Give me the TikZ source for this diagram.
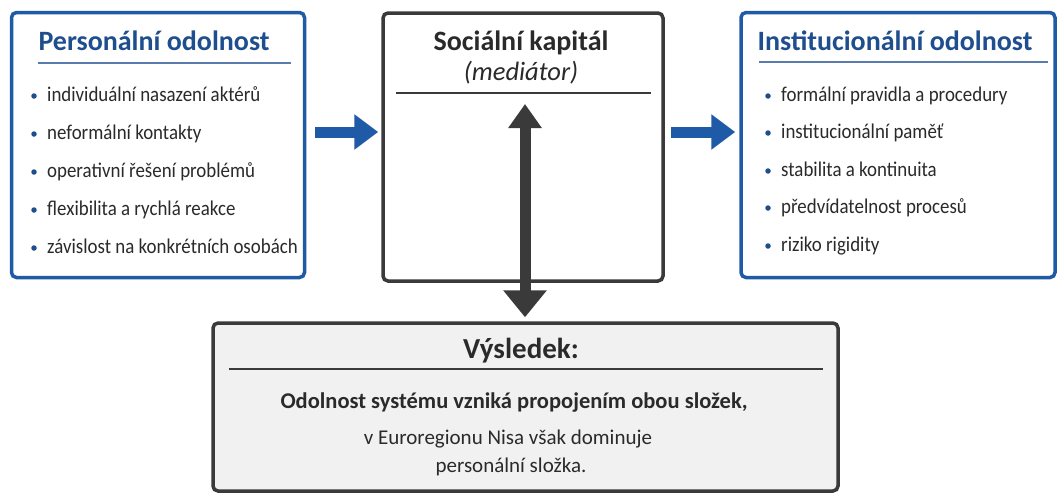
\documentclass[tikz,border=0pt]{standalone}
\usepackage{fontspec}
\setmainfont{Carlito}
\newfontfamily\itemfont{Carlito}[FakeStretch=0.9]
\usetikzlibrary{arrows.meta}
\definecolor{bblue}{HTML}{1F5AA6}
\definecolor{tblue}{HTML}{1E4E8E}
\definecolor{rblue}{HTML}{5A7BAE}
\definecolor{dgray}{HTML}{3A3A3A}
\definecolor{txt}{HTML}{2A2A2A}
\definecolor{lgray}{HTML}{F1F1F1}
\begin{document}
\begin{tikzpicture}[x=1pt,y=-1pt,
  bluebox/.style={draw=bblue, line width=3.5pt, rounded corners=5pt, fill=white, inner sep=0},
  graybox/.style={draw=dgray, line width=3.5pt, rounded corners=5pt, inner sep=0},
  ttl/.style={font=\fontsize{28}{30}\selectfont\bfseries, text=tblue, inner sep=0, anchor=base},
  mttl/.style={text=txt, inner sep=0, anchor=base},
  itm/.style={font=\itemfont\fontsize{21}{24}\selectfont, text=txt, inner sep=0, anchor=base west},
  btxt/.style={font=\fontsize{21}{24}\selectfont, text=txt, inner sep=0, anchor=base},
  bul/.style={circle, fill=tblue, inner sep=0, minimum size=5.5pt},
  trule/.style={draw=rblue, line width=1.2pt},
  grule/.style={draw=dgray, line width=1.4pt},
  bluearrow/.style={draw=bblue, line width=11pt, -{Triangle[width=34pt,length=24pt]}},
  grayarrow/.style={draw=dgray, line width=11pt, {Triangle[width=32pt,length=24pt]}-{Triangle[width=42pt,length=27pt]}}
]
\useasboundingbox (0,0) rectangle (1057,493);

% boxes
\node[bluebox, minimum width=293pt, minimum height=265pt] (left) at (158,145) {};
\node[graybox, fill=white, minimum width=280pt, minimum height=268pt] (mid) at (523,147) {};
\node[bluebox, minimum width=314pt, minimum height=265pt] (right) at (898,145) {};
\node[graybox, fill=lgray, minimum width=625pt, minimum height=168pt] (res) at (525.5,407) {};

% left box content
\node[ttl] (lt) at (154,50) {Personální odolnost};
\draw[trule] (38,63) -- (291,63);
\foreach \t/\y [count=\i] in {individuální nasazení aktérů/101, neformální kontakty/139, operativní řešení problémů/177, flexibilita a rychlá reakce/215, závislost na konkrétních osobách/253}{
  \node[bul] (lb\i) at (34,\y-5) {};
  \node[itm] (li\i) at (47,\y) {\t};
}

% right box content
\node[ttl] (rt) at (895,50) {Institucionální odolnost};
\draw[trule] (759,62) -- (1048,62);
\foreach \t/\y [count=\i] in {formální pravidla a procedury/101, institucionální paměť/138, stabilita a kontinuita/176, předvídatelnost procesů/213, riziko rigidity/251}{
  \node[bul] (rb\i) at (768,\y-5) {};
  \node[itm] (ri\i) at (781,\y) {\t};
}

% middle box content
\node[mttl, font=\fontsize{28}{30}\selectfont\bfseries] (mt) at (521,50) {Sociální kapitál};
\node[mttl, font=\fontsize{26.5}{28}\selectfont\itshape] (mt2) at (521,80) {(mediátor)};
\draw[grule] (396,93) -- (651,93);

% result box content
\node[btxt, font=\fontsize{29}{32}\selectfont\bfseries] (rt1) at (521,358) {Výsledek:};
\draw[grule] (229,369) -- (823,369);
\node[btxt, font=\fontsize{22.5}{26}\selectfont\bfseries] (rl1) at (514,408) {Odolnost systému vzniká propojením obou složek,};
\node[btxt] (rl2) at (508,444) {v Euroregionu Nisa však dominuje};
\node[btxt] (rl3) at (511,472) {personální složka.};

% connectors
\coordinate (uptip) at (525,104);
\coordinate (arrowy) at (0,132);
\draw[bluearrow] ([xshift=9pt]left.east |- arrowy) -- ([xshift=-3pt]mid.west |- arrowy);
\draw[bluearrow] ([xshift=6pt]mid.east |- arrowy) -- ([xshift=-4pt]right.west |- arrowy);
\draw[grayarrow] (uptip) -- ([yshift=4pt]res.north -| uptip);
\end{tikzpicture}
\end{document}
